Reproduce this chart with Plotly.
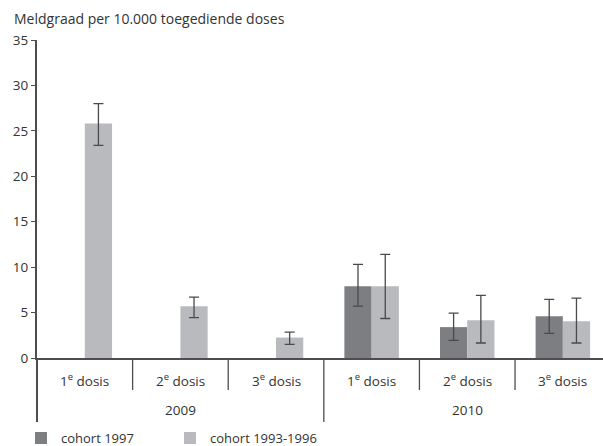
import plotly.graph_objects as go

# Reporting rate per 10,000 administered doses, by dose and year
dose_labels = ["1<sup>e</sup> dosis", "2<sup>e</sup> dosis", "3<sup>e</sup> dosis",
               "1<sup>e</sup> dosis", "2<sup>e</sup> dosis", "3<sup>e</sup> dosis"]
year_labels = ["2009", "2010"]
positions = [0, 1, 2, 3, 4, 5]

cohort_1997 = [None, None, None, 7.9, 3.4, 4.6]
cohort_1997_upper = [None, None, None, 10.3, 4.95, 6.45]
cohort_1997_lower = [None, None, None, 5.7, 1.95, 2.7]

cohort_1993_1996 = [25.8, 5.7, 2.25, 7.9, 4.15, 4.05]
cohort_1993_1996_upper = [28.0, 6.7, 2.85, 11.4, 6.9, 6.6]
cohort_1993_1996_lower = [23.4, 4.45, 1.5, 4.35, 1.65, 1.65]

y_ticks = [0, 5, 10, 15, 20, 25, 30, 35]

AXIS = "#4d4d4f"
TEXT = "#333333"
FONT = "Open Sans"


def err_plus(vals, upper):
    return [None if v is None else u - v for v, u in zip(vals, upper)]


def err_minus(vals, lower):
    return [None if v is None else v - lo for v, lo in zip(vals, lower)]


fig = go.Figure()
fig.add_trace(go.Bar(
    x=positions, y=cohort_1997, name="cohort 1997",
    marker=dict(color="#7d7e81", line=dict(width=0)),
    error_y=dict(type="data", symmetric=False,
                 array=err_plus(cohort_1997, cohort_1997_upper),
                 arrayminus=err_minus(cohort_1997, cohort_1997_lower),
                 color="#4a4a4c", thickness=1.3, width=5),
))
fig.add_trace(go.Bar(
    x=positions, y=cohort_1993_1996, name="cohort 1993-1996",
    marker=dict(color="#b9babd", line=dict(width=0)),
    error_y=dict(type="data", symmetric=False,
                 array=err_plus(cohort_1993_1996, cohort_1993_1996_upper),
                 arrayminus=err_minus(cohort_1993_1996, cohort_1993_1996_lower),
                 color="#4a4a4c", thickness=1.3, width=5),
))

# plot area in pixels: left 37, bottom at 357.7, top at 40
plot_h = 317.7
plot_w = 566

def py(px_below):
    """paper y for a pixel distance below the x axis"""
    return -px_below / plot_h

shapes = []
# y axis continues down through the category band
shapes.append(dict(type="line", xref="paper", yref="paper", x0=0, x1=0,
                   y0=0, y1=py(64), line=dict(color=AXIS, width=2)))
# category dividers; the year divider runs further down
for b in [0.5, 1.5, 2.5, 3.5, 4.5]:
    depth = 64 if b == 2.5 else 32
    shapes.append(dict(type="line", xref="x", yref="paper", x0=b, x1=b,
                       y0=0, y1=py(depth), line=dict(color=AXIS, width=1.3)))

label_font = dict(family=FONT, size=13.5, color=TEXT)
annotations = [dict(text="Meldgraad per 10.000 toegediende doses", xref="paper", yref="paper",
                    x=-25 / plot_w, y=1 + 21 / plot_h, xanchor="left", yanchor="middle",
                    showarrow=False, font=dict(family=FONT, size=14, color=TEXT))]
for p, lab in zip(positions, dose_labels):
    annotations.append(dict(text=lab, xref="x", yref="paper", x=p, y=py(22),
                            xanchor="center", yanchor="middle", showarrow=False,
                            font=label_font))
for cx, lab in zip([1, 4], year_labels):
    annotations.append(dict(text=lab, xref="x", yref="paper", x=cx, y=py(52),
                            xanchor="center", yanchor="middle", showarrow=False,
                            font=label_font))

fig.update_layout(
    width=603, height=446,
    margin=dict(l=37, r=0, t=40, b=446 - 40 - plot_h, autoexpand=False),
    paper_bgcolor="white", plot_bgcolor="white",
    barmode="group", bargap=0.43, bargroupgap=0,
    font=dict(family=FONT, size=13, color=TEXT),
    xaxis=dict(range=[-0.5, 5.42], showticklabels=False, ticks="", showgrid=False,
               zeroline=False, showline=True, linecolor=AXIS, linewidth=2,
               fixedrange=True),
    yaxis=dict(range=[0, 35], tickvals=y_ticks, ticks="outside", ticklen=4,
               tickcolor=AXIS, tickwidth=1.3, showgrid=False, zeroline=False,
               showline=True, linecolor=AXIS, linewidth=2,
               tickfont=label_font, fixedrange=True),
    showlegend=True,
    legend=dict(orientation="h", x=-16 / plot_w, y=py(80), xanchor="left", yanchor="middle",
                font=dict(family=FONT, size=13, color=TEXT), entrywidth=104,
                bgcolor="rgba(0,0,0,0)", traceorder="normal"),
    shapes=shapes, annotations=annotations,
)

fig.write_html("out.html")
